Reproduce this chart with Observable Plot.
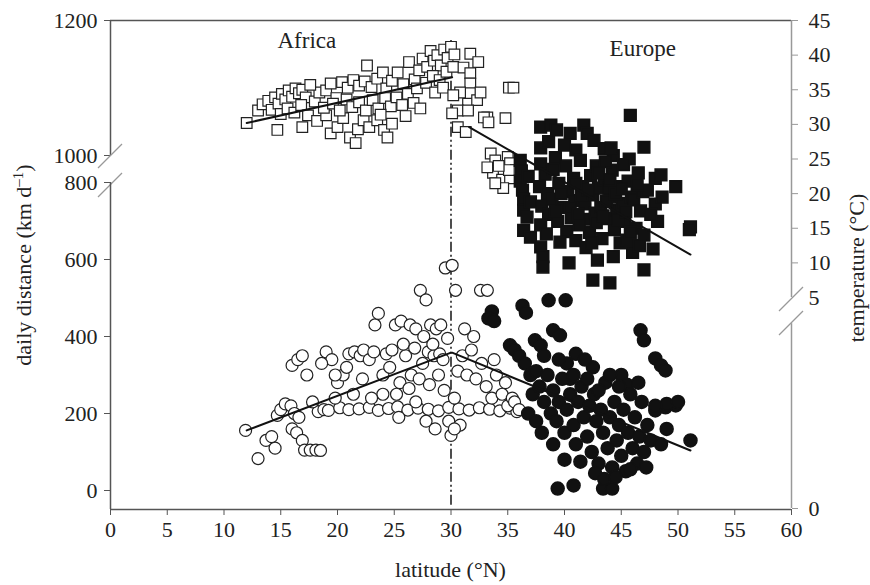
<!DOCTYPE html>
<html><head><meta charset="utf-8">
<script src="https://cdn.jsdelivr.net/npm/d3@7"></script>
<script src="https://cdn.jsdelivr.net/npm/@observablehq/plot@0.6"></script>
<style>
html,body{margin:0;padding:0;background:#fff;}
#wrap{position:relative;width:870px;height:585px;overflow:hidden;}
#wrap svg{position:absolute;left:0;top:0;}
</style></head><body><div id="wrap"></div>
<script>
// ---- data: [latitude °N, value] ----
const africaTemperature = [
[12.0,30.2],[13.0,32.0],[13.4,32.9],[13.9,33.4],[14.2,32.1],[14.5,33.9],[14.8,33.0],[15.1,34.4],[15.4,33.6],[15.7,34.9],[16.0,34.0],[16.3,35.2],[16.6,34.5],[16.9,35.0],[17.2,33.9],[15.0,31.5],[15.6,32.3],[16.2,31.7],[16.8,32.8],[17.4,31.3],[14.7,29.2],[16.9,29.6],[18.2,30.5],[18.0,33.3],[18.4,34.6],[17.6,35.7],
[19.0,34.9],[19.4,35.9],[19.9,33.8],[20.4,36.1],[20.9,35.3],[21.4,36.4],[21.9,35.6],[22.6,38.5],[22.4,36.2],[23.0,35.4],[23.5,36.6],[24.0,37.5],[24.3,35.2],[24.8,36.3],[25.3,37.5],[26.3,39.0],[25.8,35.8],
[19.4,28.7],[20.0,29.6],[21.1,28.1],[21.6,27.3],[21.8,29.3],[22.3,30.6],[22.8,29.6],[23.5,30.6],[24.1,29.2],[24.4,28.1],[24.8,30.1],[20.5,30.9],[19.0,31.3],
[18.8,32.4],[19.6,33.0],[20.2,32.0],[20.8,33.6],[21.3,32.5],[21.9,33.2],[22.5,32.0],[23.1,33.5],[23.6,32.3],[24.2,33.8],[24.7,32.6],[25.2,33.9],[25.7,32.8],[26.2,34.4],[26.7,33.1],[27.3,32.3],[26.0,31.2],[23.8,31.4],
[26.8,36.5],[27.2,37.8],[27.5,39.5],[27.9,38.3],[28.2,40.6],[28.5,39.2],[28.8,40.0],[29.1,38.5],[29.4,40.8],[29.7,39.6],[30.0,41.2],[30.3,40.1],[27.0,35.2],[27.8,36.0],[28.4,37.0],[29.0,36.4],[29.6,37.6],[30.2,38.3],[28.6,34.6],[29.3,35.3],
[31.7,40.2],[32.4,39.0],[31.1,38.2],[31.7,37.4],[31.7,35.9],[31.7,34.5],[31.5,33.0],[30.8,34.6],[30.6,32.0],[32.3,33.5],[33.2,31.0],[30.6,29.6],[30.2,34.2],[32.6,34.6],[30.1,31.6],[31.5,32.0],[31.3,28.9],[32.9,31.0],[33.3,30.3],[34.8,30.9],[35.1,35.3],[35.5,35.3],
[33.5,25.8],[33.9,24.8],[35.0,25.3],[35.2,24.4],[33.7,23.0],[34.5,22.0],[35.2,22.2],[34.6,20.8],[33.2,23.8],[35.7,23.4],[35.1,23.4],[34.2,24.0],[33.9,21.5]
];
const europeTemperature = [
[45.8,31.3],[37.9,29.6],[38.8,29.9],[39.3,29.2],[40.5,28.7],[41.7,29.9],[42.0,28.7],[42.6,27.7],[37.9,26.6],[38.6,27.5],[41.0,26.3],[47.0,26.7],[43.5,26.5],[44.3,25.5],
[36.1,24.8],[36.2,23.3],[36.1,21.8],[36.3,20.5],[36.4,19.2],[36.4,17.6],[36.7,16.6],[36.4,14.7],[37.0,13.7],[36.8,22.5],[37.0,18.8],
[37.9,24.3],[38.3,22.8],[37.8,21.0],[38.5,20.0],[38.0,18.2],[38.6,17.0],[37.9,15.5],[38.4,14.2],[37.9,12.3],[38.1,10.9],[38.1,9.4],[38.9,19.2],[39.0,23.5],[39.2,25.2],
[39.5,21.5],[39.8,18.0],[40.1,24.0],[40.3,20.3],[40.6,16.5],[40.2,14.5],[39.6,13.0],[40.4,10.0],[40.8,22.2],[39.4,16.0],[40.9,19.0],[41.0,13.2],[40.0,27.0],
[41.4,24.8],[41.6,21.0],[41.8,18.5],[42.0,16.3],[42.3,22.6],[42.5,19.8],[42.7,17.2],[42.2,14.4],[42.9,10.4],[42.5,7.5],[41.3,15.5],[42.8,24.0],[41.9,12.2],[43.0,20.8],
[43.2,18.0],[43.5,22.0],[43.8,16.4],[44.0,19.5],[44.2,23.4],[44.4,14.8],[44.6,17.6],[44.8,21.0],[43.3,13.5],[44.3,10.9],[44.0,7.1],[43.6,24.6],[44.9,12.9],[43.9,20.8],[44.1,26.6],
[45.1,18.6],[45.3,16.0],[45.5,13.3],[45.6,21.8],[45.9,19.5],[46.1,19.1],[46.3,15.0],[46.5,23.0],[46.7,17.5],[46.9,20.3],[47.0,14.0],[45.7,25.0],[47.3,20.5],[47.0,9.0],[46.0,11.5],[45.2,24.2],
[48.0,22.2],[48.5,22.7],[48.0,18.5],[48.2,16.0],[49.8,21.0],[47.6,17.0],[51.1,15.2],[51.0,14.8],[47.8,12.0],[48.6,19.5],
[40.5,18.0],[41.2,17.0],[41.5,19.8],[42.1,20.5],[42.8,15.8],[43.4,16.8],[43.7,18.9],[44.5,20.0],[44.7,16.2],[45.0,20.7],[45.4,17.4],[45.8,14.4],[46.4,21.3],[41.0,21.5],[39.7,20.0],[39.2,17.5],[43.0,23.0],[44.0,22.0],[42.4,12.9],[46.6,12.5]
];
const africaDistance = [
[11.9,156],[13.0,83],[13.7,130],[14.2,140],[14.5,110],[14.7,195],[15.0,210],[15.4,225],[15.9,220],[16.2,200],[16.6,190],[16.0,160],[16.4,150],[16.9,130],[17.1,105],[17.6,105],[18.1,105],[18.5,104],
[16.0,325],[16.5,340],[16.9,350],[17.3,300],[18.3,205],[18.8,210],[19.2,208],[19.0,360],[19.5,340],[20.0,280],[20.5,300],[21.0,355],[21.5,360],[22.0,350],[22.3,365],[22.8,340],[23.3,430],[23.6,460],[23.2,360],[24.0,300],[24.3,355],[24.8,365],
[25.1,430],[25.6,440],[26.0,350],[26.4,430],[26.9,420],[27.3,520],[27.8,495],[28.2,430],[28.7,420],[29.1,430],[29.5,578],[30.1,585],[30.4,520],[32.6,520],[33.2,520],[28.0,360],[28.5,350],[29.0,355],[29.3,340],[27.5,330],[26.5,300],[25.5,280],
[20.2,215],[21.0,210],[21.9,212],[22.8,216],[23.6,208],[24.5,213],[25.3,217],[26.2,209],[27.1,214],[28.0,211],[28.9,207],[29.8,216],[30.7,212],[31.6,209],[32.5,215],[33.4,211],[34.3,207],[35.2,214],[35.8,205],
[24.6,320],[25.2,250],[25.8,380],[26.3,265],[26.8,370],[27.2,290],[27.6,400],[28.1,275],[28.4,380],[28.9,300],[29.4,260],[29.7,395],[30.0,143],[29.8,180],[30.3,240],[30.6,310],[31.0,350],[31.4,300],[31.8,365],[32.2,290],[32.7,330],[33.1,270],[33.6,240],[34.0,300],[34.5,250],[35.0,220],[35.4,240],[34.8,280],[33.8,340],[32.0,400],[31.2,420],[30.8,170],[28.6,160],[27.8,180],[26.9,230],[25.4,190],[24.0,250],[23.0,240],[22.2,290],[21.4,250],[20.8,320],[19.8,240],[17.8,230],[18.6,330],[19.8,300],[35.6,230],[36.0,210],[30.3,160]
];
const europeDistance = [
[33.6,465],[33.3,447],[33.8,440],[36.3,480],[36.6,462],[38.6,494],[40.1,494],[35.2,377],[35.6,365],[36.0,350],[37.4,390],[37.9,377],[39.0,416],[39.6,403],[40.2,330],[41.0,355],[40.5,290],[48.0,343],[48.5,325],[48.9,312],[46.7,416],[47.0,390],[45.0,300],[45.5,275],
[39.4,5],[40.8,13],[43.4,5],[44.2,5],[51.1,130],[49.8,221],[48.9,216],[48.0,208],[49.0,225],
[36.5,330],[37.0,300],[37.5,310],[37.2,250],[37.8,270],[38.2,230],[38.5,300],[38.8,200],[39.0,260],[39.3,180],[39.5,230],[39.8,290],[40.0,150],[40.2,210],[40.5,250],[40.8,170],[41.0,120],[41.2,230],[41.5,270],[41.7,190],[42.0,140],[42.2,220],[42.4,100],[42.6,250],[42.8,180],[43.0,70],[43.2,210],[43.4,150],[43.6,280],[43.8,110],[44.0,190],[44.2,60],[44.4,230],[44.6,130],[44.8,170],[45.0,90],[45.2,210],[45.4,50],[45.6,150],[45.8,250],[46.0,110],[46.2,190],[46.4,70],[46.6,140],[46.8,230],[47.0,100],[47.3,170],[47.6,130],[48.0,220],[48.5,120],[49.0,160],[50.0,230],
[38.0,150],[39.0,120],[40.0,80],[41.4,75],[42.7,45],[43.5,30],[44.5,35],[45.8,55],[47.2,60],[46.5,280],[44.0,300],[42.5,320],[41.8,340],[39.5,340],[38.2,350],[36.8,200],[37.5,180],[43.0,260],[44.8,270],[42.0,290],[40.8,300]
];
// regression lines
const africaTempFit = [[12.0,30.2],[30.1,36.8]];
const europeTempFit = [[31.6,29.6],[51.1,11.2]];
const africaDistFit = [[12.0,156],[30.0,358]];
const europeDistFit = [[30.1,358],[51.1,104]];
// ticks and labels
const latTicks = [0,5,10,15,20,25,30,35,40,45,50,55,60];
const distTicksLow = [0,200,400,600,800];
const distTicksHigh = [1000,1200];
const tempTicks = [10,15,20,25,30,35,40,45];
const tempBreakTick = [5];
const tempZeroTick = [0];
const regionNames = ["Africa","Europe"];
const regionLat = [17.3,46.9];
const regionTemp = [42.1,41.0];
const regions = regionNames.map((n,i)=>({name:n,lat:regionLat[i],t:regionTemp[i]}));

const FONT = "Liberation Serif, Times New Roman, DejaVu Serif, serif";
const FS = 22;
const common = {
  width: 870, height: 585,
  marginLeft: 110, marginRight: 79, marginTop: 20, marginBottom: 76,
  style: {fontFamily: FONT, fontSize: FS + "px", color: "#222", background: "none"},
  x: {domain: [0, 60], axis: null}
};
const lat = d => d[0], val = d => d[1];
const fmt = d => String(d);

// upper segment of the distance axis (1000–1200)
const plotDistTop = Plot.plot({
  ...common,
  y: {domain: [1000, 1200], insetBottom: 354, axis: null},
  marks: [
    Plot.ruleY([1200], {stroke: "#555", strokeWidth: 1.5}),
    Plot.ruleX([0], {y1: 1000, y2: 1200, stroke: "#555", strokeWidth: 1.5}),
    Plot.axisY(distTicksHigh, {anchor: "left", tickSize: 6, tickPadding: 7, stroke: "#555", fill: "#222", fontSize: FS, tickFormat: fmt, label: null})
  ]
});

// lower segment of the distance axis (0–800) with the circles
const plotDist = Plot.plot({
  ...common,
  y: {domain: [0, 800], insetTop: 162, insetBottom: 19, axis: null},
  marks: [
    Plot.ruleX([0], {y1: -49.4, y2: 800, stroke: "#555", strokeWidth: 1.5}),
    Plot.ruleY([-49.4], {stroke: "#555", strokeWidth: 1.5}),
    Plot.axisY(distTicksLow, {anchor: "left", tickSize: 6, tickPadding: 7, stroke: "#555", fill: "#222", fontSize: FS, tickFormat: fmt, label: null}),
    Plot.axisX(latTicks, {anchor: "bottom", tickSize: 6, tickPadding: 6, stroke: "#555", fill: "#222", fontSize: FS, tickFormat: fmt, label: null}),
    Plot.ruleX([30], {y1: -38, y2: 1169, stroke: "#222", strokeWidth: 1.6, strokeDasharray: "10,3,2,3,2,3"}),
    Plot.dot(africaDistance, {x: lat, y: val, r: 6, fill: "white", stroke: "#222", strokeWidth: 1.2}),
    Plot.dot(europeDistance, {x: lat, y: val, r: 6.5, fill: "#111", stroke: "#111"}),
    Plot.line(africaDistFit, {x: lat, y: val, stroke: "#111", strokeWidth: 2}),
    Plot.line(europeDistFit, {x: lat, y: val, stroke: "#111", strokeWidth: 2})
  ]
});

// lower segment of the temperature axis (0–5)
const plotTempZero = Plot.plot({
  ...common,
  y: {domain: [0, 5], insetTop: 277, insetBottom: 1, axis: null},
  marks: [
    Plot.ruleX([60], {y1: 0, y2: 4.38, stroke: "#999", strokeWidth: 1.5}),
    Plot.axisY(tempZeroTick, {anchor: "right", tickSize: 6, tickPadding: 11, stroke: "#999", fill: "#222", fontSize: FS, tickFormat: fmt, label: null})
  ]
});

// upper segment of the temperature axis (5–45) with the squares
const plotTemp = Plot.plot({
  ...common,
  y: {domain: [5, 45], insetBottom: 212, axis: null},
  marks: [
    Plot.ruleX([60], {y1: 5, y2: 45, stroke: "#999", strokeWidth: 1.5}),
    Plot.axisY(tempTicks, {anchor: "right", tickSize: 6, tickPadding: 11, stroke: "#999", fill: "#222", fontSize: FS, tickFormat: fmt, label: null}),
    Plot.axisY(tempBreakTick, {anchor: "right", tickSize: 0, tickPadding: 17, fill: "#222", fontSize: FS, tickFormat: fmt, label: null}),
    Plot.dot(africaTemperature, {x: lat, y: val, symbol: "square", r: 6, fill: "white", stroke: "#222", strokeWidth: 1.2}),
    Plot.dot(europeTemperature, {x: lat, y: val, symbol: "square", r: 6.6, fill: "#111", stroke: "#111"}),
    Plot.line(africaTempFit, {x: lat, y: val, stroke: "#111", strokeWidth: 2}),
    Plot.line(europeTempFit, {x: lat, y: val, stroke: "#111", strokeWidth: 2}),
    Plot.text(regions, {x: "lat", y: "t", text: "name", fontSize: FS + 1, fill: "#222"})
  ]
});

const wrap = document.getElementById("wrap");
[plotDistTop, plotDist, plotTempZero, plotTemp].forEach(p => wrap.appendChild(p));

// axis titles and break marks
const sA = d3.select(plotDistTop);
const xs = plotDist.scale("x");
const yTop = plotDistTop.scale("y"), yLow = plotDist.scale("y");
const yT = plotTemp.scale("y");
const tl = sA.append("text").attr("transform", "translate(31,265) rotate(-90)")
  .attr("text-anchor", "middle").style("font-family", FONT).attr("font-size", FS).attr("fill", "#222");
tl.append("tspan").text("daily distance (km d");
tl.append("tspan").attr("dy", -8).attr("font-size", 15).text("–1");
tl.append("tspan").attr("dy", 8).text(")");
sA.append("text").attr("transform", "translate(864,268) rotate(-90)")
  .attr("text-anchor", "middle").style("font-family", FONT).attr("font-size", FS).attr("fill", "#222")
  .text("temperature (°C)");
sA.append("text").attr("x", xs.apply(30)).attr("y", 577)
  .attr("text-anchor", "middle").style("font-family", FONT).attr("font-size", FS).attr("fill", "#222")
  .text("latitude (°N)");
function slash(cx, cy) {
  sA.append("line").attr("x1", cx - 12).attr("y1", cy + 12).attr("x2", cx + 12).attr("y2", cy - 12)
    .attr("stroke", "#999").attr("stroke-width", 1.2);
}
slash(xs.apply(0), yTop.apply(1000) + 1);
slash(xs.apply(0), yLow.apply(800) + 3);
slash(xs.apply(60), yT.apply(5) + 2);
slash(xs.apply(60), yT.apply(5) + 26);
</script></body></html>
